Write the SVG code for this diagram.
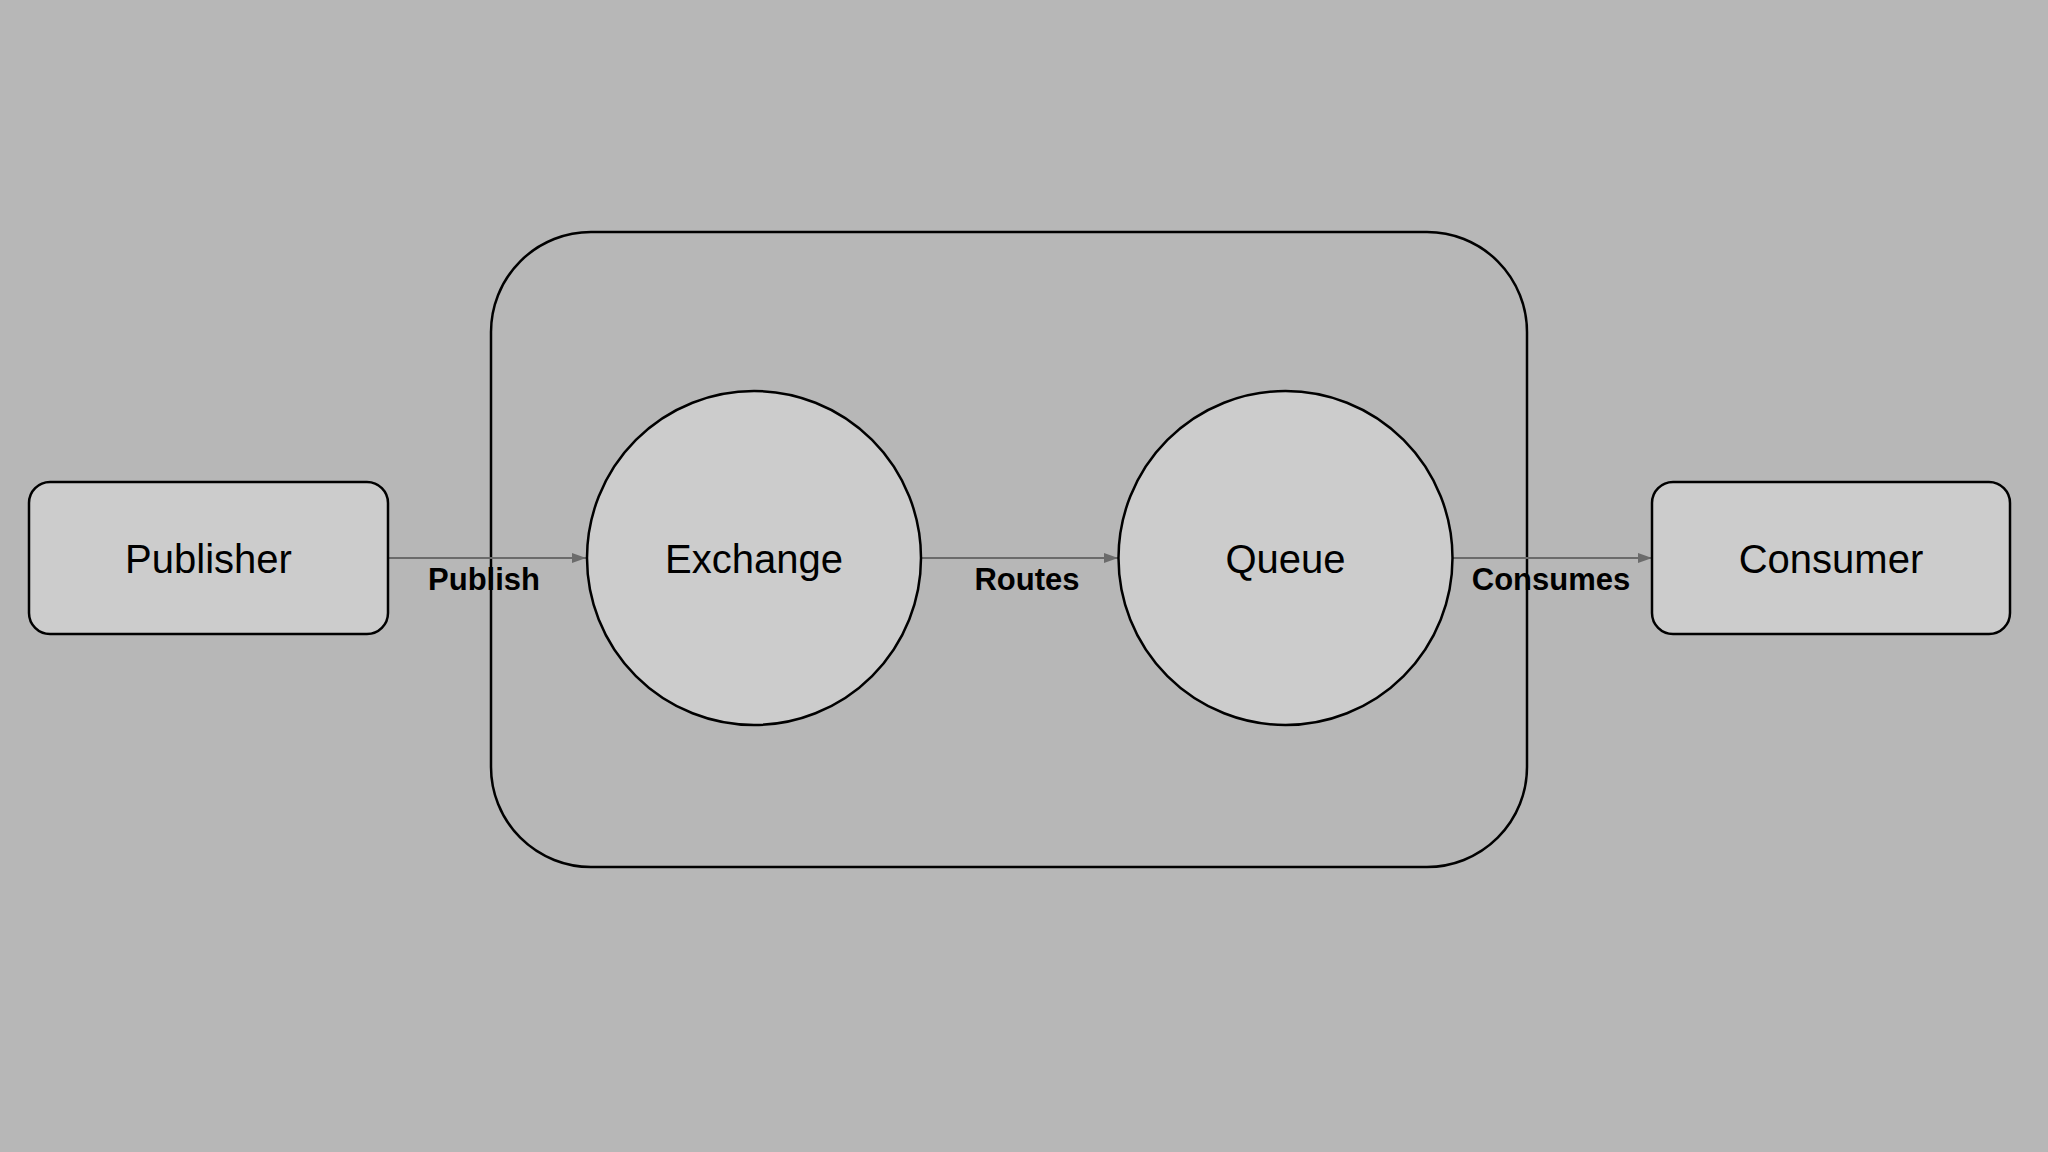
<svg xmlns="http://www.w3.org/2000/svg" width="2048" height="1152" viewBox="0 0 2048 1152">
  <style>
    .node { fill: #cccccc; stroke: #000000; stroke-width: 2.5; }
    .container { fill: none; stroke: #000000; stroke-width: 2.5; }
    .label { font-family: "Liberation Sans", Arial, sans-serif; font-size: 40px; fill: #000000; text-anchor: middle; }
    .edge { stroke: #6b6b6b; stroke-width: 2; fill: none; }
    .elabel { font-family: "Liberation Sans", Arial, sans-serif; font-size: 31px; font-weight: bold; fill: #000000; text-anchor: middle; }
  </style>
  <defs>
    <marker id="arrow" viewBox="0 0 14 10" refX="14" refY="5" markerWidth="14" markerHeight="10" markerUnits="userSpaceOnUse" orient="auto">
      <path d="M0,0 L14,5 L0,10 Z" fill="#6b6b6b"/>
    </marker>
  </defs>
  <rect x="0" y="0" width="2048" height="1152" fill="#b7b7b7"/>

  <g id="broker">
    <rect class="container" x="491" y="232" width="1036" height="635" rx="100" ry="100"/>
  </g>

  <g id="connectors">
    <line class="edge" x1="388" y1="558" x2="586" y2="558" marker-end="url(#arrow)"/>
    <line class="edge" x1="921" y1="558" x2="1118" y2="558" marker-end="url(#arrow)"/>
    <line class="edge" x1="1453" y1="558" x2="1652" y2="558" marker-end="url(#arrow)"/>
    <text class="elabel" x="484" y="590">Publish</text>
    <text class="elabel" x="1027" y="590">Routes</text>
    <text class="elabel" x="1551" y="590">Consumes</text>
  </g>

  <g id="publisher">
    <rect class="node" x="29" y="482" width="359" height="152" rx="21" ry="21"/>
    <text class="label" x="208.5" y="573">Publisher</text>
  </g>

  <g id="exchange">
    <circle class="node" cx="754" cy="558" r="167"/>
    <text class="label" x="754" y="573">Exchange</text>
  </g>

  <g id="queue">
    <circle class="node" cx="1285.5" cy="558" r="167"/>
    <text class="label" x="1285.5" y="573">Queue</text>
  </g>

  <g id="consumer">
    <rect class="node" x="1652" y="482" width="358" height="152" rx="21" ry="21"/>
    <text class="label" x="1831" y="573">Consumer</text>
  </g>
</svg>
